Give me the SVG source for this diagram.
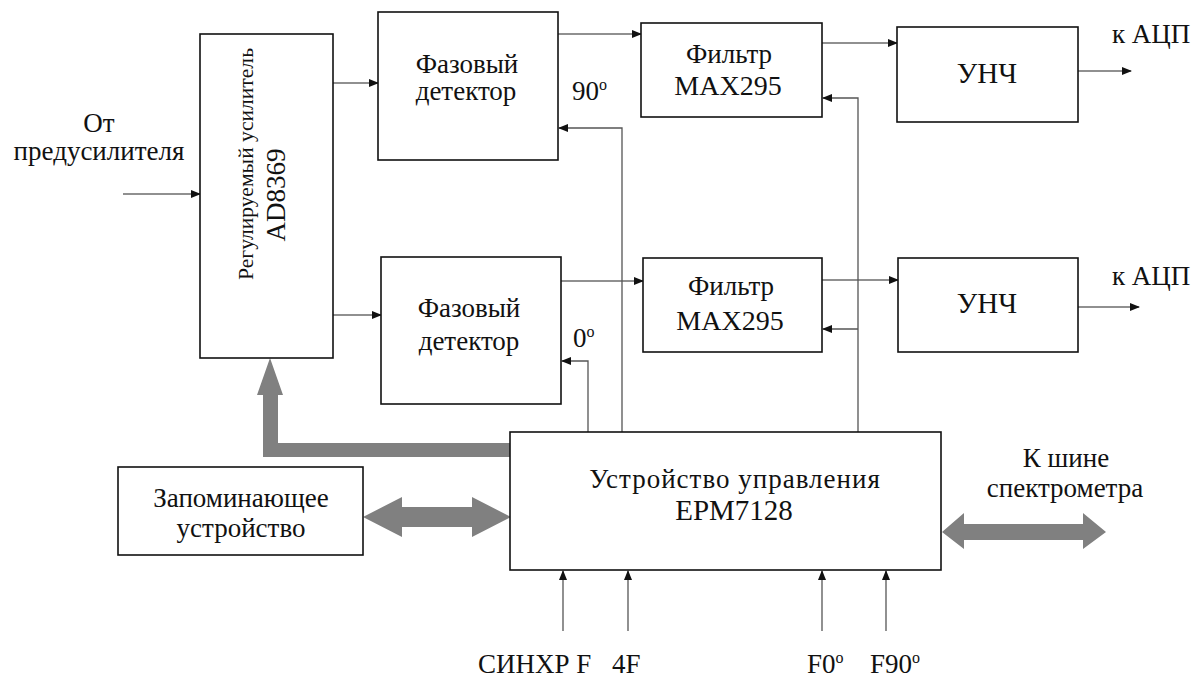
<svg xmlns="http://www.w3.org/2000/svg" width="1199" height="679" viewBox="0 0 1199 679">
<defs>
<style>
.box{fill:#fff;stroke:#111;stroke-width:1.6}
.ln{fill:none;stroke:#222;stroke-width:1.2}
.vl{fill:none;stroke:#555;stroke-width:1.3}
.t{font-family:'Liberation Serif','Times New Roman',serif;font-size:27px;fill:#111}
.m{text-anchor:middle}
.s28{font-size:28px}
.s29{font-size:29px}
.big{fill:#808080;stroke:none}
</style>
<marker id="ah" markerWidth="10" markerHeight="8" refX="9" refY="4" orient="auto" markerUnits="userSpaceOnUse">
<path d="M0,0 L10,4 L0,8 Z" fill="#111"/>
</marker>
</defs>
<rect width="1199" height="679" fill="#fff"/>

<g id="connectors">
<line class="ln" x1="123" y1="194" x2="200" y2="194" marker-end="url(#ah)"/>
<line class="ln" x1="333" y1="83" x2="378" y2="83" marker-end="url(#ah)"/>
<line class="ln" x1="333" y1="315" x2="381" y2="315" marker-end="url(#ah)"/>
<line class="ln" x1="558" y1="34" x2="641" y2="34" marker-end="url(#ah)"/>
<line class="ln" x1="561" y1="281" x2="643" y2="281" marker-end="url(#ah)"/>
<line class="ln" x1="822" y1="43" x2="897" y2="43" marker-end="url(#ah)"/>
<line class="ln" x1="822" y1="280" x2="898" y2="280" marker-end="url(#ah)"/>
<line class="ln" x1="1078" y1="71" x2="1131" y2="71" marker-end="url(#ah)"/>
<line class="ln" x1="1078" y1="307" x2="1139" y2="307" marker-end="url(#ah)"/>
<polyline class="vl" points="622,432 622,128 559,128" marker-end="url(#ah)"/>
<polyline class="vl" points="588,432 588,361 562,361" marker-end="url(#ah)"/>
<polyline class="vl" points="858,432 858,98 823,98" marker-end="url(#ah)"/>
<line class="vl" x1="858" y1="329" x2="823" y2="329" marker-end="url(#ah)"/>
<line class="vl" x1="563" y1="631" x2="563" y2="571" marker-end="url(#ah)"/>
<line class="vl" x1="628" y1="631" x2="628" y2="571" marker-end="url(#ah)"/>
<line class="vl" x1="822" y1="631" x2="822" y2="571" marker-end="url(#ah)"/>
<line class="vl" x1="886" y1="631" x2="886" y2="571" marker-end="url(#ah)"/>
<path class="big" d="M510,443 L510,457 L263,457 L263,395 L257,395 L270,358 L283,395 L278,395 L278,443 Z"/>
<path class="big" d="M363,517 L402,497 L402,507 L472,507 L472,497 L511,517 L472,537 L472,527 L402,527 L402,537 Z"/>
<path class="big" d="M942,532 L964,513 L964,524 L1083,524 L1083,513 L1106,532 L1083,549 L1083,540 L964,540 L964,549 Z"/>
</g>

<g id="amp">
<rect class="box" x="200" y="34" width="133" height="324"/>
<text class="t m" style="font-size:21px" transform="translate(253,164) rotate(-90)" textLength="232" lengthAdjust="spacingAndGlyphs">Регулируемый усилитель</text>
<text class="t m" transform="translate(285,195) rotate(-90)">AD8369</text>
</g>

<g id="pd1">
<rect class="box" x="378" y="12" width="180" height="148"/>
<text class="t m" x="467" y="73">Фазовый</text>
<text class="t m" x="466" y="100">детектор</text>
</g>

<g id="pd2">
<rect class="box" x="381" y="257" width="180" height="147"/>
<text class="t m" x="469" y="317">Фазовый</text>
<text class="t m" x="469" y="350">детектор</text>
</g>

<g id="f1">
<rect class="box" x="641" y="23" width="181" height="94"/>
<text class="t m" x="729" y="63">Фильтр</text>
<text class="t m s28" x="728" y="95">MAX295</text>
</g>

<g id="f2">
<rect class="box" x="643" y="258" width="179" height="94"/>
<text class="t m" x="731" y="295">Фильтр</text>
<text class="t m s28" x="730" y="330">MAX295</text>
</g>

<g id="u1">
<rect class="box" x="897" y="27" width="181" height="95"/>
<text class="t m s29" x="987" y="83">УНЧ</text>
</g>

<g id="u2">
<rect class="box" x="898" y="258" width="180" height="94"/>
<text class="t m s29" x="987" y="313">УНЧ</text>
</g>

<g id="ctrl">
<rect class="box" x="510" y="432" width="431" height="138"/>
<text class="t m" x="735" y="488" letter-spacing="1">Устройство управления</text>
<text class="t m s29" x="734" y="520">EPM7128</text>
</g>

<g id="mem">
<rect class="box" x="118" y="467" width="245" height="88"/>
<text class="t m" x="241" y="507">Запоминающее</text>
<text class="t m" x="241" y="537">устройство</text>
</g>

<g id="labels">
<text class="t m" x="99" y="132">От</text>
<text class="t m" x="99" y="160">предусилителя</text>
<text class="t" x="1112" y="43">к АЦП</text>
<text class="t" x="1112" y="285">к АЦП</text>
<text class="t" x="572" y="100">90<tspan style="font-size:16px" dy="-10">o</tspan></text>
<text class="t" x="573" y="347">0<tspan style="font-size:16px" dy="-10">o</tspan></text>
<text class="t m" x="1066" y="467">К шине</text>
<text class="t m" x="1065" y="497">спектрометра</text>
<text class="t" x="478" y="673">СИНХР F</text>
<text class="t" x="612" y="673">4F</text>
<text class="t" x="807" y="673">F0<tspan style="font-size:16px" dy="-10">o</tspan></text>
<text class="t" x="870" y="673">F90<tspan style="font-size:16px" dy="-10">o</tspan></text>
</g>
</svg>
